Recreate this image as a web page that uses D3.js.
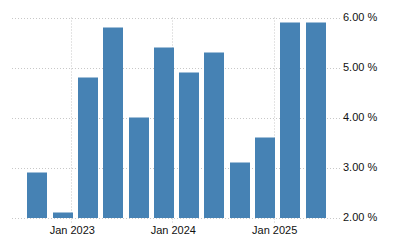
<!DOCTYPE html>
<html>
<head>
<meta charset="utf-8">
<script src="https://cdn.jsdelivr.net/npm/d3@7"></script>
<style>
html,body{margin:0;padding:0;background:#fff;}
svg{display:block;}
text{font-family:"Liberation Sans",Arial,sans-serif;font-size:11px;fill:#111;}
</style>
</head>
<body>
<svg id="chart" width="400" height="250"></svg>
<script>
const dates = ["2022-09-01","2022-12-01","2023-03-01","2023-06-01","2023-09-01","2023-12-01","2024-03-01","2024-06-01","2024-09-01","2024-12-01","2025-03-01","2025-06-01"];
const values = [2.9, 2.1, 4.8, 5.8, 4.0, 5.4, 4.9, 5.3, 3.1, 3.6, 5.9, 5.9];
const yTicks = [2, 3, 4, 5, 6];
const xTicks = ["2023-01-01","2024-01-01","2025-01-01"];
const xTickLabels = ["Jan 2023","Jan 2024","Jan 2025"];

(function () {
const parse = d3.utcParse("%Y-%m-%d");
const svg = d3.select("#chart");
const mLeft = 12, mRight = 341, mTop = 17.5, mBottom = 217.5;

const x = d3.scaleUtc().domain([parse("2022-06-01"), parse("2025-09-01")]).range([mLeft, mRight]);
const y = d3.scaleLinear().domain([2, 6]).range([mBottom, mTop]);

// horizontal grid
svg.append("g").selectAll("line").data(yTicks).join("line")
  .attr("x1", mLeft).attr("x2", 340)
  .attr("y1", d => Math.round(y(d)) + 0.5).attr("y2", d => Math.round(y(d)) + 0.5)
  .attr("stroke", "#c8c8c8").attr("stroke-dasharray", "1,2");

// vertical grid
svg.append("g").selectAll("line").data(xTicks).join("line")
  .attr("x1", d => Math.round(x(parse(d))) + 0.5).attr("x2", d => Math.round(x(parse(d))) + 0.5)
  .attr("y1", mTop).attr("y2", mBottom + 5)
  .attr("stroke", "#c8c8c8").attr("stroke-dasharray", "1,2");

// bars
svg.append("g").selectAll("rect").data(values).join("rect")
  .attr("x", (d, i) => Math.round(x(parse(dates[i])) - 10))
  .attr("width", 20)
  .attr("y", d => y(d))
  .attr("height", d => mBottom + 0.5 - y(d))
  .attr("fill", "#4682b4");

// y labels
svg.append("g").selectAll("text").data(yTicks).join("text")
  .attr("x", 343).attr("y", d => y(d))
  .attr("dy", "0.35em")
  .text(d => d3.format(".2f")(d) + " %");

// x labels
svg.append("g").selectAll("text").data(xTicks).join("text")
  .attr("x", d => x(parse(d)) + 1).attr("y", 234)
  .attr("text-anchor", "middle")
  .text((d, i) => xTickLabels[i]);
})();
</script>
</body>
</html>
